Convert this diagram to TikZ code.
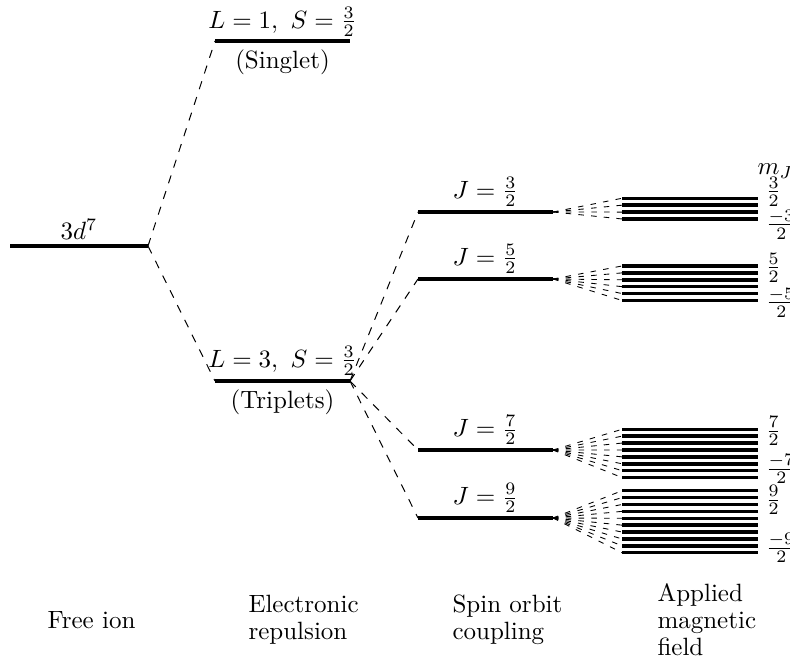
\documentclass[tikz,border=0pt]{standalone}
\begin{document}
\begin{tikzpicture}[x=0.4pt,y=-0.4pt,
  level/.style={line width=1.6pt},
  sublevel/.style={line width=1.4pt},
  link/.style={line width=0.4pt,dash pattern=on 3.3pt off 3.3pt},
  fan/.style={line width=0.35pt,dash pattern=on 2.2pt off 2.9pt},
  lab/.style={inner sep=0pt},
  mlab/.style={inner sep=0pt,anchor=west},
  bottom/.style={inner sep=0pt,anchor=west,align=left,font=\fontsize{10}{10.8}\selectfont}]
\useasboundingbox (0,0) rectangle (790,664);

% free ion
\coordinate (fl) at (10,246); \coordinate (fr) at (148,246);
\draw[level] (fl) -- (fr);
\node[lab] (fion) at (79,229) {$3d^7$};

% electronic repulsion
\coordinate (sl) at (215,41); \coordinate (sr) at (350,41);
\draw[level] (sl) -- (sr);
\node[lab] (slab) at (282.5,22) {$L=1,\ S=\frac{3}{2}$};
\node[lab] (sname) at (282.5,62) {(Singlet)};

\coordinate (tl) at (215,381); \coordinate (tr) at (350,381);
\draw[level] (tl) -- (tr);
\node[lab] (tlab) at (282.5,361) {$L=3,\ S=\frac{3}{2}$};
\node[lab] (tname) at (282.5,402) {(Triplets)};

\draw[link] (fr) -- (sl);
\draw[link] (fr) -- (tl);

% spin orbit
\foreach \n/\y/\t in {a/212/3, b/279/5, c/450/7, d/518/9}{
  \coordinate (j\n l) at (418,\y); \coordinate (j\n r) at (553,\y);
  \draw[level] (j\n l) -- (j\n r);
  \node[lab] (j\n lab) at (485.5,\y-20) {$J=\frac{\t}{2}$};
  \draw[link] (tr) -- (j\n l);
}

% Zeeman sublevels
\foreach \n/\top/\cnt in {a/198.3/4, b/266/6, c/429.3/8, d/490.7/10}{
  \foreach \k in {1,...,\cnt}{
    \coordinate (m\n\k l) at (622,\top+6.89*\k-6.89);
    \coordinate (m\n\k r) at (758,\top+6.89*\k-6.89);
    \draw[sublevel] (m\n\k l) -- (m\n\k r);
    \draw[fan] (j\n r) -- (m\n\k l);
  }
}

% m_J labels
\node[mlab] (mj) at (757,171) {$m_J$};
\node[mlab] (la1) at (765,192) {$\frac{3}{2}$};
\node[mlab] (la2) at (765,225) {$\frac{-3}{2}$};
\node[mlab] (lb1) at (765,268) {$\frac{5}{2}$};
\node[mlab] (lb2) at (765,303) {$\frac{-5}{2}$};
\node[mlab] (lc1) at (765,431) {$\frac{7}{2}$};
\node[mlab] (lc2) at (765,469) {$\frac{-7}{2}$};
\node[mlab] (ld1) at (765,500) {$\frac{9}{2}$};
\node[mlab] (ld2) at (765,548) {$\frac{-9}{2}$};

% bottom captions
\node[bottom] (c1) at (47,620) {Free ion};
\node[bottom] (c2) at (248,620) {Electronic\\repulsion};
\node[bottom] (c3) at (452,620) {Spin orbit\\coupling};
\node[bottom] (c4) at (657,620) {Applied\\magnetic\\field};
\end{tikzpicture}
\end{document}
